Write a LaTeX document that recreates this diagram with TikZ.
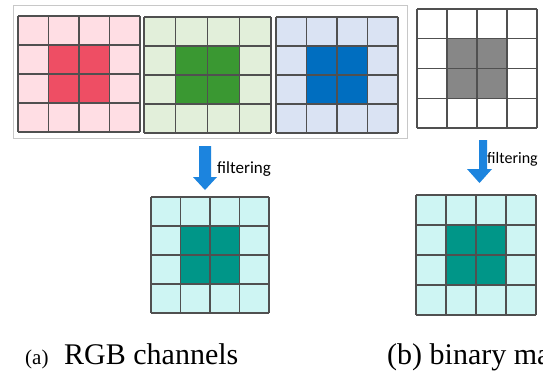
\documentclass[tikz,border=0pt]{standalone}
\usepackage{fontspec}
\setmainfont{Liberation Serif}
\newfontfamily\calib{Carlito}
\definecolor{pinkL}{RGB}{255,222,228}
\definecolor{redD}{RGB}{238,78,100}
\definecolor{greenL}{RGB}{226,239,218}
\definecolor{greenD}{RGB}{58,152,50}
\definecolor{blueL}{RGB}{218,227,243}
\definecolor{blueD}{RGB}{0,110,192}
\definecolor{grayD}{RGB}{135,135,135}
\definecolor{cyanL}{RGB}{206,245,243}
\definecolor{tealD}{RGB}{0,150,136}
\definecolor{arrowBlue}{RGB}{28,132,222}
\definecolor{frameGray}{RGB}{200,200,200}
\definecolor{lineGray}{RGB}{80,80,80}
\tikzset{
  gl/.style={draw=lineGray, line width=1.1pt},
  filtarrow/.style={fill=arrowBlue, draw=none},
  filtlabel/.style={font=\calib\fontsize{17}{20}\selectfont, inner sep=0pt, anchor=base west},
  caption/.style={font=\fontsize{30}{34}\selectfont, inner sep=0pt, anchor=base west},
}
\newcommand{\pixgrid}[7]{% name, x0, y0, x1, y1, light, dark
  \begin{scope}[shift={(#2,#3)}, xscale={(#4-#2)/4}, yscale={(#5-#3)/4}]
    \fill[#6] (0,0) rectangle (4,4);
    \fill[#7] (1,1) rectangle (3,3);
    \foreach \i in {0,...,4} {
      \draw[gl] (\i,0) -- (\i,4);
      \draw[gl] (0,\i) -- (4,\i);
    }
    \coordinate (#1) at (2,2);
  \end{scope}
}
\begin{document}
\begin{tikzpicture}[x=1pt, y=-1pt]
  \clip (0,0) rectangle (543,373);
  \fill[white] (0,0) rectangle (543,373);
  % frame around RGB channels
  \draw[frameGray, line width=1pt] (13,5) rectangle (407,138);
  \pixgrid{red}{18}{16}{140}{132}{pinkL}{redD}
  \pixgrid{green}{144}{17}{271}{133}{greenL}{greenD}
  \pixgrid{blue}{276}{17}{398}{133}{blueL}{blueD}
  \pixgrid{binary}{417}{9}{537}{128}{white}{grayD}
  \pixgrid{outa}{151}{197}{269}{313}{cyanL}{tealD}
  \pixgrid{outb}{416}{195}{536}{315}{cyanL}{tealD}
  % filtering arrows
  \fill[filtarrow] (199,146) -- (211,146) -- (211,177) -- (217,177) -- (205,190)
    -- (193,177) -- (199,177) -- cycle;
  \fill[filtarrow] (479,140) -- (487,140) -- (487,169) -- (492,169) -- (479.5,183)
    -- (467,169) -- (479,169) -- cycle;
  \node[filtlabel] (fa) at (217,173) {filtering};
  \node[filtlabel, font=\calib\fontsize{16}{19}\selectfont] (fb) at (487,163) {filtering};
  % captions
  \node[inner sep=0pt, anchor=base west, font=\fontsize{21}{24}\selectfont] (capa) at (25,364) {(a)};
  \node[caption] (capaa) at (64,364) {RGB channels};
  \node[caption] (capb) at (387,364) {(b) binary map};
\end{tikzpicture}
\end{document}
